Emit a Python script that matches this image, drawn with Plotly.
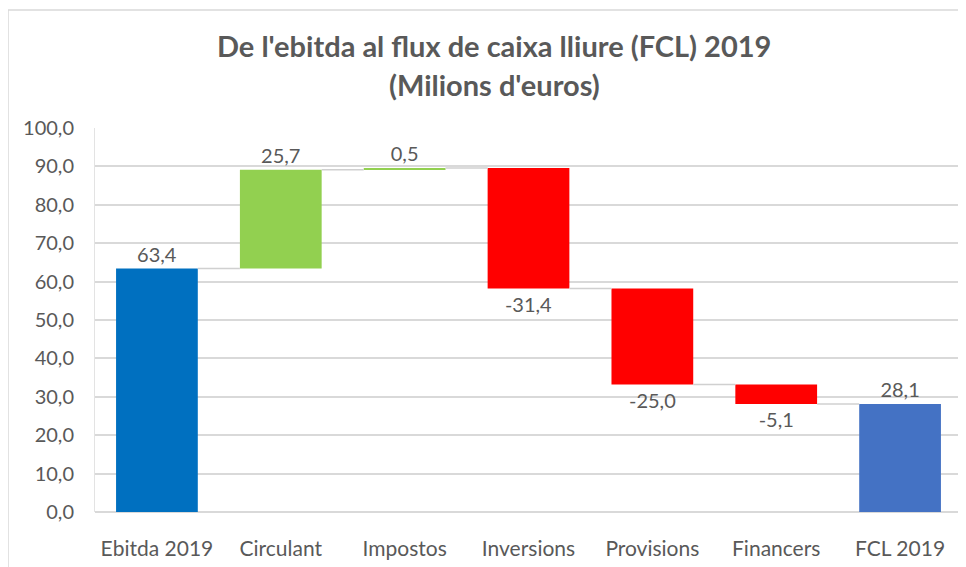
import plotly.graph_objects as go

categories = ["Ebitda 2019", "Circulant", "Impostos", "Inversions",
              "Provisions", "Financers", "FCL 2019"]
changes = [63.4, 25.7, 0.5, -31.4, -25.0, -5.1, 28.1]
kinds = ["total", "up", "up", "down", "down", "down", "total"]
kind_colors = {"up": "#92D050", "down": "#FF0000"}
start_color = "#0070C0"
end_color = "#4472C4"

# bases and running level for the waterfall
bases, levels = [], []
level = 0.0
for v, k in zip(changes, kinds):
    if k == "total":
        bases.append(0)
        level = v
    else:
        bases.append(level)
        level = level + v
    levels.append(level)

colors = []
for i, k in enumerate(kinds):
    if k == "total":
        colors.append(start_color if i == 0 else end_color)
    else:
        colors.append(kind_colors[k])

labels = [f"{v:.1f}".replace(".", ",") for v in changes]
xs = list(range(len(categories)))
bar_w = 0.66

# plot area in figure pixels (page is offset by the 8px body margin)
L, R, T, B = 87, 954, 120, 504
W, H = 966, 567


def px_x(p):
    return (p - L) / (R - L)


def px_y(p):
    return (B - p) / (B - T)


fig = go.Figure()

# connectors
cx, cy = [], []
for i in range(len(categories) - 1):
    cx += [xs[i] + bar_w / 2, xs[i + 1] - bar_w / 2, None]
    cy += [levels[i], levels[i], None]
fig.add_trace(go.Scatter(x=cx, y=cy, mode="lines",
                         line=dict(color="#D0D0D0", width=1.5),
                         hoverinfo="skip", showlegend=False))

fig.add_trace(go.Bar(
    x=xs, y=changes, base=bases, width=bar_w,
    marker=dict(color=colors, line=dict(width=0)),
    text=labels, textposition="outside", cliponaxis=False,
    textfont=dict(family="Lato", size=20, color="#595959"),
    showlegend=False,
))

fig.update_layout(
    width=W, height=H,
    margin=dict(l=L, r=W - R, t=T, b=H - B, autoexpand=False),
    paper_bgcolor="white", plot_bgcolor="white",
    separators=",.",
    font=dict(family="Lato", size=20, color="#595959"),
    xaxis=dict(tickmode="array", tickvals=xs, ticktext=categories,
               range=[-0.5, 6.5], showgrid=False, zeroline=False,
               ticks="", showline=False, ticklabelstandoff=22,
               tickfont=dict(family="Lato", size=21, color="#595959")),
    yaxis=dict(range=[0, 100], dtick=10, tickformat=".1f",
               gridcolor="#D9D9D9", gridwidth=1.5,
               zeroline=True, zerolinecolor="#D9D9D9", zerolinewidth=1.5,
               showline=True, linecolor="#E3E3E3", linewidth=1,
               ticks="", ticklen=0, ticklabelstandoff=16,
               tickfont=dict(family="Lato", size=20, color="#595959")),
    shapes=[dict(type="rect", xref="paper", yref="paper",
                 x0=px_x(0), x1=1.1, y0=-0.3, y1=px_y(2),
                 line=dict(color="#D9D9D9", width=1.5), layer="below")],
    annotations=[
        dict(text="<b>De l'ebitda al flux de caixa lliure (FCL) 2019</b>",
             xref="paper", yref="paper", x=px_x(486), y=px_y(38),
             showarrow=False, xanchor="center", yanchor="middle",
             font=dict(family="Lato", size=29, color="#595959")),
        dict(text="<b>(Milions d'euros)</b>",
             xref="paper", yref="paper", x=px_x(486), y=px_y(77),
             showarrow=False, xanchor="center", yanchor="middle",
             font=dict(family="Lato", size=29, color="#595959")),
    ],
)

fig.write_html("out.html")
